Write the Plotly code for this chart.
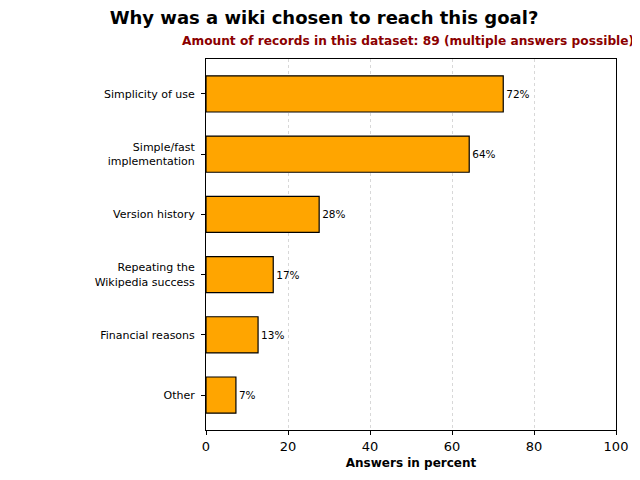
import plotly.graph_objects as go

# Survey answers, listed bottom to top
categories = ["Other", "Financial reasons", "Repeating the<br>Wikipedia success",
              "Version history", "Simple/fast<br>implementation", "Simplicity of use"]
percent = [7.3, 12.7, 16.4, 27.6, 64.2, 72.5]
labels = ["7%", "13%", "17%", "28%", "64%", "72%"]

fig = go.Figure()
fig.add_trace(go.Bar(
    y=categories,
    x=percent,
    orientation="h",
    width=0.6,
    marker=dict(color="#FFA500", line=dict(color="black", width=1.2)),
    text=labels,
    textposition="outside",
    textfont=dict(size=10.5, color="black"),
    cliponaxis=False,
))

# page body adds an 8px offset, so the figure is a bit smaller than the window
fig.update_layout(
    width=632, height=472,
    margin=dict(l=198, r=22, t=51, b=48),
    plot_bgcolor="white",
    paper_bgcolor="white",
    font=dict(family="DejaVu Sans", color="black"),
    showlegend=False,
    title=dict(text="<b>Why was a wiki chosen to reach this goal?</b>",
               x=0.5, xanchor="center", y=0.98, yanchor="middle",
               font=dict(size=18, color="black")),
    annotations=[dict(
        text="<b>Amount of records in this dataset: 89 (multiple answers possible)</b>",
        xref="paper", yref="paper", x=0.5, y=1.0, yshift=18, xshift=-3,
        xanchor="center", yanchor="middle", showarrow=False,
        font=dict(size=12.2, color="#8B0000"),
    )],
)

fig.update_xaxes(
    range=[0, 100], tickvals=[0, 20, 40, 60, 80, 100],
    showgrid=True, gridcolor="#d8d8d8", griddash="dot", gridwidth=1,
    showline=True, linecolor="black", linewidth=1, mirror=True,
    ticks="outside", ticklen=4, tickcolor="black",
    tickfont=dict(size=13), zeroline=False,
    title=dict(text="<b>Answers in percent</b>", font=dict(size=12), standoff=6),
)
fig.update_yaxes(
    range=[-0.58, 5.58],
    showgrid=False,
    showline=True, linecolor="black", linewidth=1, mirror=True,
    ticks="outside", ticklen=4, tickcolor="black",
    tickfont=dict(size=11), ticklabelstandoff=4,
)

fig.write_html("out.html")
